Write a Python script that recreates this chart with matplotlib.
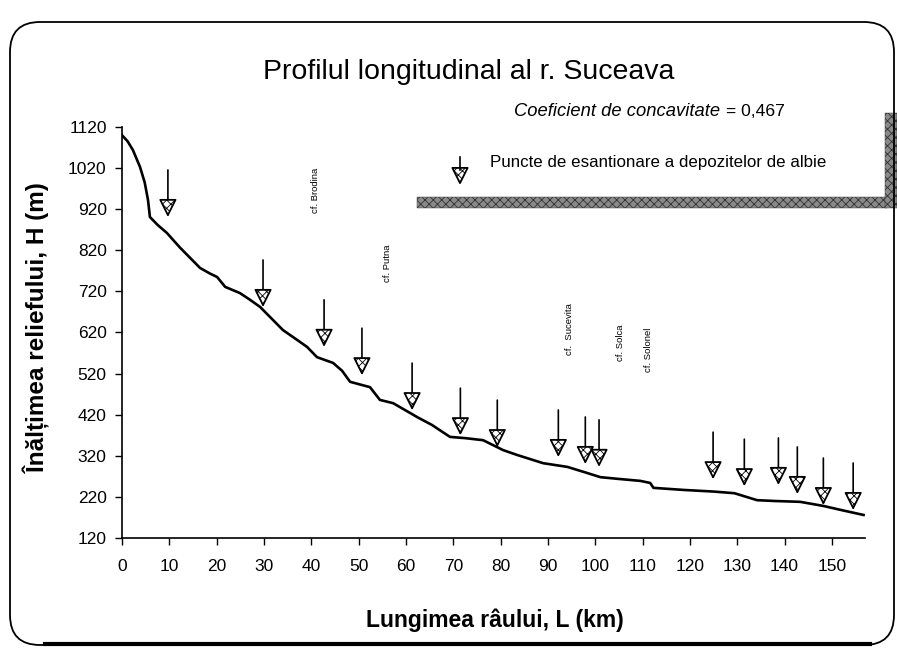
import matplotlib.pyplot as plt
from matplotlib.patches import FancyBboxPatch, Rectangle
from matplotlib.lines import Line2D
from matplotlib.transforms import ScaledTranslation

plt.rcParams['font.family'] = ['Liberation Sans', 'DejaVu Sans']
plt.rcParams['hatch.linewidth'] = 0.6

# profilul longitudinal (distanta de la izvor, altitudine)
dist_km = [0, 1.2, 2.3, 3.8, 4.8, 5.5, 5.9, 7.5, 9.5, 12.3, 16.5, 18.5, 20.1,
           21.8, 24.9, 27.0, 29.2, 34.0, 36.5, 39.1, 41.2, 44.6, 46.5, 48.2,
           52.4, 54.5, 57.3, 62.4, 65.5, 69.3, 72.5, 76.3, 80.5, 83.5, 89.0,
           94.1, 97.5, 101.1, 104.7, 109.5, 111.6, 112.3, 118.6, 125.0,
           129.4, 134.2, 138.0, 143.3, 148.2, 152.0, 156.7]
alt_m = [1100, 1085, 1064, 1023, 985, 942, 901, 882, 862, 826, 777, 764, 755,
         731, 716, 700, 682, 626, 606, 585, 560, 546, 527, 500,
         487, 456, 448, 414, 395, 366, 363, 358, 334, 322, 302,
         293, 281, 268, 264, 259, 254, 242, 237, 233,
         229, 212, 210, 208, 198, 188, 176]

# puncte de esantionare (varful sagetii)
sample_km = [9.7, 29.8, 42.7, 50.7, 61.3, 71.5, 79.3, 92.2, 97.9, 100.8,
             124.9, 131.5, 138.7, 142.7, 148.2, 154.5]
sample_alt = [906, 687, 590, 521, 436, 375, 346, 322, 305, 298,
              268, 251, 254, 232, 205, 193]

# confluente
trib_names = ['cf. Brodina', 'cf. Putna', 'cf.  Sucevita', 'cf. Solca', 'cf. Solonel']
trib_km = [40.8, 56.0, 94.5, 105.3, 111.2]
trib_alt = [967, 789, 628, 594, 577]

W, H = 897, 656


def px(x, y):
    # pixeli imagine -> fractiune figura
    return x / W, 1 - y / H


fig = plt.figure(figsize=(W / 100, H / 100), dpi=100)
ax = fig.add_axes([122 / W, 118 / H, 743 / W, 411 / H])

ax.plot(dist_km, alt_m, color='black', lw=1.9, zorder=3)

# sageti
tri_tr = ax.transData + ScaledTranslation(0, 0.075, fig.dpi_scale_trans)
for L, h in zip(sample_km, sample_alt):
    ax.annotate('', xy=(L, h), xytext=(0, 32.4), textcoords='offset points',
                arrowprops=dict(arrowstyle='-', lw=1.2, color='black',
                                shrinkA=0, shrinkB=0))
ax.scatter(sample_km, sample_alt, marker='v', s=120, facecolor='white',
           edgecolor='black', linewidths=1.3, hatch='xxxx', zorder=5,
           transform=tri_tr)

for name, L, h in zip(trib_names, trib_km, trib_alt):
    ax.text(L, h, name, rotation=90, ha='center', va='center', fontsize=6.8)

ax.set_xlim(0, 157)
ax.set_ylim(120, 1120)
ax.set_xticks(range(0, 151, 10))
ax.set_yticks(range(120, 1121, 100))
ax.tick_params(direction='out', length=5, width=1, labelsize=12.5)
ax.tick_params(axis='x', pad=10)
ax.tick_params(axis='y', pad=6)
for s in ['top', 'right']:
    ax.spines[s].set_visible(False)
for s in ['left', 'bottom']:
    ax.spines[s].set_linewidth(1.2)

ax.set_ylabel('Înălțimea reliefului, H (m)', fontsize=17.5, fontweight='bold', va='center')
ax.yaxis.set_label_coords((38 - 122) / 743, 0.511)
ax.set_xlabel('Lungimea râului, L (km)', fontsize=16.5, fontweight='bold', va='center')
ax.xaxis.set_label_coords((495 - 122) / 743, (538 - 620) / 411)

# titlu si legenda
fig.text(*px(469, 72), 'Profilul longitudinal al r. Suceava', ha='center', va='center', fontsize=20.5)
fig.text(*px(720, 112), 'Coeficient de concavitate', ha='right', va='center', fontsize=13.2, style='italic')
fig.text(*px(726, 112), '= 0,467', ha='left', va='center', fontsize=12.6)
fig.text(*px(490, 162), 'Puncte de esantionare a depozitelor de albie', ha='left', va='center', fontsize=12.2)

fig.add_artist(Line2D(*zip(px(460, 157), px(460, 170)), color='black', lw=1.2))
ax.scatter(*px(460, 175.5), marker='v', s=120, facecolor='white', edgecolor='black',
           linewidths=1.3, hatch='xxxx', transform=fig.transFigure, clip_on=False, zorder=5)

# umbra chenarului legendei
for x0, y0, x1, y1 in [(417, 197, 887, 208), (885, 113, 897, 208)]:
    fig.add_artist(Rectangle(px(x0, y1), (x1 - x0) / W, (y1 - y0) / H,
                             transform=fig.transFigure, facecolor='#8a8a8a',
                             edgecolor='#333333', hatch='xxxx', lw=0.3))

# chenar
fig.add_artist(FancyBboxPatch((0.10, 0.11), 8.84, 6.23,
                              boxstyle='round,pad=0,rounding_size=0.3',
                              transform=fig.dpi_scale_trans, fill=False,
                              lw=1.3, ec='black'))
fig.add_artist(Line2D(*zip(px(45, 644), px(870, 644)), color='black', lw=3))

fig.savefig('out.png', dpi=100)
